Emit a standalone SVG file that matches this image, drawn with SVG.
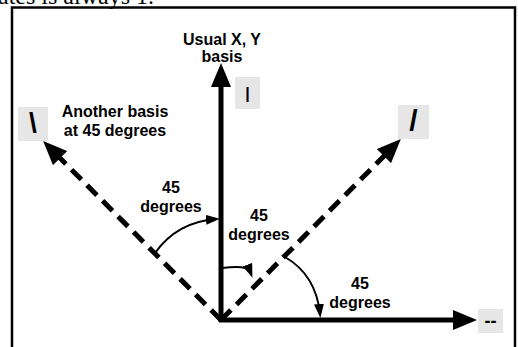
<svg xmlns="http://www.w3.org/2000/svg" width="518" height="347" viewBox="0 0 518 347">
  <style>
    .lbl { font-family: "Liberation Sans", Arial, sans-serif; font-weight: bold; font-size: 16px; fill: #000; text-anchor: middle; }
    .box { fill: #e6e6e6; stroke: none; }
    .axis { stroke: #000; stroke-width: 5; fill: none; }
    .dash { stroke: #000; stroke-width: 5; fill: none; stroke-dasharray: 14 8; }
    .arc { stroke: #000; stroke-width: 2; fill: none; }
    .top { font-family: "Liberation Serif", "Times New Roman", serif; font-size: 24px; fill: #000; }
  </style>
  <defs>
    <marker id="big" viewBox="0 0 24 20" markerWidth="24" markerHeight="20" refX="10" refY="10" orient="auto" markerUnits="userSpaceOnUse">
      <path d="M0,0 L24,10 L0,20 z" fill="#000"/>
    </marker>
    <marker id="small" viewBox="0 0 14 10" markerWidth="14" markerHeight="10" refX="10" refY="5" orient="auto" markerUnits="userSpaceOnUse">
      <path d="M0,0 L14,5 L0,10 z" fill="#000"/>
    </marker>
  </defs>
  <rect width="518" height="347" fill="#fff"/>
  <text class="top" x="-2" y="4">ates is always 1.</text>
  <rect x="12" y="7.5" width="503" height="360" fill="none" stroke="#000" stroke-width="2.5"/>

  <g id="connectors">
    <line class="axis" x1="221" y1="322" x2="221" y2="77" marker-end="url(#big)"/>
    <line class="axis" x1="219" y1="320" x2="463" y2="320" marker-end="url(#big)"/>
    <line class="dash" x1="221" y1="320" x2="53" y2="151" marker-end="url(#big)"/>
    <line class="dash" x1="221" y1="320" x2="391" y2="149" marker-end="url(#big)"/>
    <path class="arc" d="M155,253 Q177,222 216,219" marker-end="url(#small)"/>
    <path class="arc" d="M222,268 C238,266 248,266 251,274" marker-end="url(#small)"/>
    <path class="arc" d="M285,257 Q316,275 320,314" marker-end="url(#small)"/>
  </g>

  <g id="title-xy">
    <text class="lbl" x="222" y="45">Usual X, Y</text>
    <text class="lbl" x="222" y="62">basis</text>
  </g>
  <g id="title-45">
    <text class="lbl" x="115" y="117">Another basis</text>
    <text class="lbl" x="115" y="136">at 45 degrees</text>
  </g>
  <g id="angle-left">
    <text class="lbl" x="171" y="193">45</text>
    <text class="lbl" x="171" y="212">degrees</text>
  </g>
  <g id="angle-mid">
    <text class="lbl" x="259" y="221">45</text>
    <text class="lbl" x="259" y="240">degrees</text>
  </g>
  <g id="angle-right">
    <text class="lbl" x="360" y="289">45</text>
    <text class="lbl" x="360" y="308">degrees</text>
  </g>

  <g id="label-vert">
    <rect class="box" x="235" y="77" width="25" height="32"/>
    <text class="lbl" x="247.5" y="99">|</text>
  </g>
  <g id="label-slash">
    <rect class="box" x="398" y="105" width="31" height="34"/>
    <text class="lbl" x="413.5" y="131" style="font-size:30px">/</text>
  </g>
  <g id="label-backslash">
    <rect class="box" x="18" y="107" width="30" height="34"/>
    <text class="lbl" x="33" y="132" style="font-size:28px">\</text>
  </g>
  <g id="label-horiz">
    <rect class="box" x="478" y="309" width="25" height="24"/>
    <text class="lbl" x="490.5" y="327" style="font-size:18px">--</text>
  </g>
</svg>
